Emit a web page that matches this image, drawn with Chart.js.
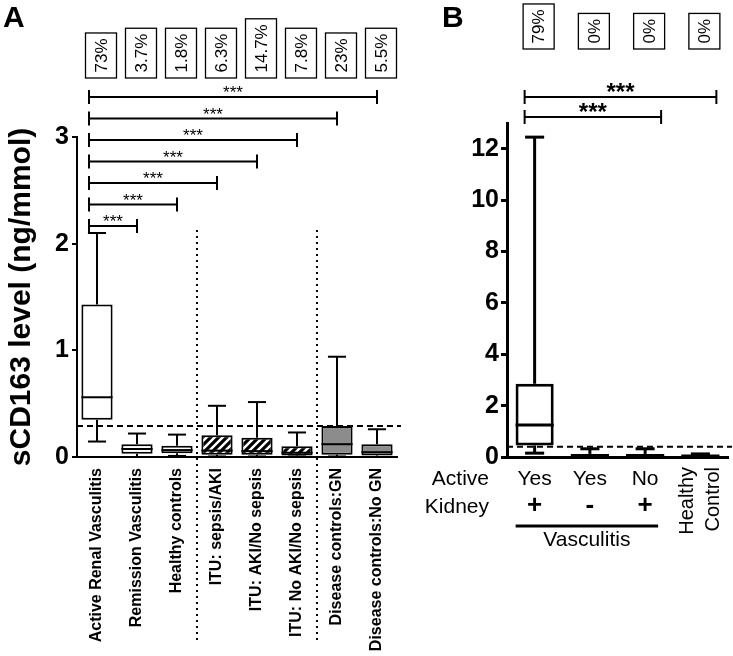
<!DOCTYPE html>
<html>
<head>
<meta charset="utf-8">
<script src="https://cdn.jsdelivr.net/npm/chart.js@4"></script>
<style>
  body { margin: 0; background: #fff; }
  canvas { position: absolute; top: 0; }
  #chartA { left: 0; }
  #chartB { left: 420px; }
</style>
</head>
<body>
<canvas id="chartA" width="420" height="656"></canvas>
<canvas id="chartB" width="313" height="656"></canvas>
<script>
// panel A - sCD163 per group (box = q1..q3, whiskers min..max)
const groupsA = ['Active Renal Vasculitis', 'Remission Vasculitis', 'Healthy controls', 'ITU: sepsis/AKI',
  'ITU: AKI/No sepsis', 'ITU: No AKI/No sepsis', 'Disease controls:GN', 'Disease controls:No GN'];
const minA = [0.145, 0, 0.01, 0.005, 0.005, 0.005, 0.005, 0];
const q1A = [0.35, 0.03, 0.035, 0.02, 0.02, 0.015, 0.02, 0.015];
const medA = [0.56, 0.075, 0.065, 0.06, 0.055, 0.04, 0.12, 0.045];
const q3A = [1.43, 0.12, 0.105, 0.205, 0.18, 0.1, 0.29, 0.12];
const maxA = [2.1, 0.22, 0.21, 0.48, 0.515, 0.23, 0.94, 0.26];
const pctA = ['73%', '3.7%', '1.8%', '6.3%', '14.7%', '7.8%', '23%', '5.5%'];
const compA = [1, 2, 3, 4, 5, 6, 7];   // each compared with group 0
const sigA = ['***', '***', '***', '***', '***', '***', '***'];
const cutoffA = 0.29;

// panel B - vasculitis subgroups
const groupsB = ['Yes +', 'Yes -', 'No +', 'Healthy Control'];
const activeB = ['Yes', 'Yes', 'No'];
const kidneyB = ['+', '-', '+'];
const minB = [0.15, 0, 0, 0];
const q1B = [0.45, 0.03, 0.03, 0.02];
const medB = [1.25, 0.06, 0.06, 0.04];
const q3B = [2.85, 0.12, 0.12, 0.07];
const maxB = [12.45, 0.32, 0.32, 0.12];
const pctB = ['79%', '0%', '0%', '0%'];
const compB = [3, 2];
const sigB = ['***', '***'];
const cutoffB = 0.4;

const FONT = "'Liberation Sans', Arial, sans-serif";
Chart.defaults.font.family = FONT;
Chart.defaults.color = '#000';

function hatch() {
  const c = document.createElement('canvas');
  c.width = c.height = 8;
  const g = c.getContext('2d');
  g.fillStyle = '#fff';
  g.fillRect(0, 0, 8, 8);
  g.strokeStyle = '#000';
  g.lineWidth = 3.2;
  g.beginPath();
  g.moveTo(-2, 10); g.lineTo(10, -2);
  g.moveTo(-2, 2); g.lineTo(2, -2);
  g.moveTo(6, 10); g.lineTo(10, 6);
  g.stroke();
  return g.createPattern(c, 'repeat');
}

function line(ctx, x1, y1, x2, y2) {
  ctx.beginPath();
  ctx.moveTo(x1, y1);
  ctx.lineTo(x2, y2);
  ctx.stroke();
}

// whiskers, medians, cutoff line, % boxes, significance brackets
function boxExtras(cfg) {
  return {
    id: 'boxExtras',
    beforeDatasetsDraw(chart) {
      const ctx = chart.ctx, y = chart.scales.y;
      ctx.save();
      ctx.strokeStyle = '#000';
      ctx.lineWidth = cfg.lw;
      chart.getDatasetMeta(0).data.forEach((bar, i) => {
        const cap = bar.width * cfg.cap / 2;
        const yMin = y.getPixelForValue(cfg.min[i]), yMax = y.getPixelForValue(cfg.max[i]);
        line(ctx, bar.x, yMax, bar.x, y.getPixelForValue(cfg.q3[i]));
        line(ctx, bar.x, yMin, bar.x, y.getPixelForValue(cfg.q1[i]));
        line(ctx, bar.x - cap, yMax, bar.x + cap, yMax);
        line(ctx, bar.x - cap, yMin, bar.x + cap, yMin);
      });
      ctx.restore();
    },
    afterDatasetsDraw(chart) {
      const ctx = chart.ctx, y = chart.scales.y, area = chart.chartArea;
      ctx.save();
      ctx.strokeStyle = '#000';
      ctx.lineWidth = cfg.lw;
      chart.getDatasetMeta(0).data.forEach((bar, i) => {
        const ym = y.getPixelForValue(cfg.med[i]);
        line(ctx, bar.x - bar.width / 2, ym, bar.x + bar.width / 2, ym);
      });
      // cutoff
      ctx.lineWidth = 2;
      ctx.setLineDash([6, 4]);
      const yc = y.getPixelForValue(cfg.cutoff);
      line(ctx, area.left, yc, area.right + 4, yc);
      ctx.restore();
    },
    afterDraw(chart) {
      const ctx = chart.ctx, x = chart.scales.x;
      ctx.save();
      // panel letter
      ctx.fillStyle = '#000';
      ctx.font = 'bold 30px ' + FONT;
      ctx.textBaseline = 'alphabetic';
      ctx.textAlign = 'left';
      ctx.fillText(cfg.letter, cfg.letterX, 27);
      // percentage boxes
      ctx.font = '17px ' + FONT;
      ctx.lineWidth = 1.3;
      ctx.strokeStyle = '#000';
      cfg.pct.forEach((t, i) => {
        const cx = x.getPixelForValue(i) + 4;
        const h = ctx.measureText(t).width + 11;
        ctx.strokeRect(cx - 15.5, cfg.pctBottom - h, 31, h);
        ctx.save();
        ctx.translate(cx, cfg.pctBottom - h / 2);
        ctx.rotate(-Math.PI / 2);
        ctx.textAlign = 'center';
        ctx.textBaseline = 'middle';
        ctx.fillText(t, 0, 1);
        ctx.restore();
      });
      // brackets
      ctx.lineWidth = 2;
      ctx.font = cfg.starFont;
      ctx.textAlign = 'center';
      ctx.textBaseline = 'alphabetic';
      const x0 = x.getPixelForValue(0) + cfg.padL;
      cfg.comp.forEach((j, k) => {
        const by = cfg.bracketY + k * cfg.bracketStep;
        const x1 = x.getPixelForValue(j) + cfg.padR;
        line(ctx, x0, by, x1, by);
        line(ctx, x0, by - 7, x0, by + 7);
        line(ctx, x1, by - 7, x1, by + 7);
        ctx.fillText(cfg.sig[k], (x0 + x1) / 2, by + cfg.starDy);
      });
      if (cfg.extra) cfg.extra(chart, ctx);
      ctx.restore();
    }
  };
}

const pat = hatch();

new Chart(document.getElementById('chartA'), {
  type: 'bar',
  data: {
    labels: groupsA,
    datasets: [{
      data: q1A.map((v, i) => [v, q3A[i]]),
      backgroundColor: ['#fff', '#fff', '#fff', pat, pat, pat, '#8c8c8c', '#8c8c8c'],
      borderColor: '#000',
      borderWidth: 2,
      borderSkipped: false,
      categoryPercentage: 1,
      barPercentage: 0.78
    }]
  },
  options: {
    responsive: false,
    animation: false,
    layout: { padding: { top: 137, right: 23, left: 0, bottom: 0 } },
    plugins: { legend: { display: false }, tooltip: { enabled: false } },
    scales: {
      x: {
        grid: { display: false },
        border: { color: '#000', width: 2 },
        ticks: { font: { size: 16, weight: 'bold' }, minRotation: 90, maxRotation: 90, padding: 3, autoSkip: false },
        afterFit: s => { s.height = 199; }
      },
      y: {
        min: 0, max: 3,
        ticks: { stepSize: 1, font: { size: 25, weight: 'bold' }, padding: 3 },
        grid: { drawOnChartArea: false, color: '#000', lineWidth: 2, tickLength: 5 },
        border: { color: '#000', width: 2 },
        title: { display: true, text: 'sCD163 level (ng/mmol)', font: { size: 30, weight: 'bold' }, padding: { top: 4, bottom: 0 } },
        afterFit: s => { s.width = 77; }
      }
    }
  },
  plugins: [boxExtras({
    min: minA, q1: q1A, med: medA, q3: q3A, max: maxA, pct: pctA, comp: compA, sig: sigA, cutoff: cutoffA,
    lw: 2, cap: 0.58, letter: 'A', letterX: 3, pctBottom: 78,
    bracketY: 226, bracketStep: -21.5, padL: -8, padR: 0, starFont: '17px ' + FONT, starDy: 1,
    extra(chart, ctx) {
      const x = chart.scales.x;
      ctx.lineWidth = 2;
      ctx.setLineDash([2, 4]);
      [2, 5].forEach(i => {
        const sx = (x.getPixelForValue(i) + x.getPixelForValue(i + 1)) / 2;
        line(ctx, sx, 230, sx, 642);
      });
    }
  })]
});

new Chart(document.getElementById('chartB'), {
  type: 'bar',
  data: {
    labels: groupsB,
    datasets: [{
      data: q1B.map((v, i) => [v, q3B[i]]),
      backgroundColor: '#fff',
      borderColor: '#000',
      borderWidth: 3,
      borderSkipped: false,
      categoryPercentage: 1,
      barPercentage: 0.69
    }]
  },
  options: {
    responsive: false,
    animation: false,
    layout: { padding: { top: 123, right: 5, left: 0, bottom: 0 } },
    plugins: { legend: { display: false }, tooltip: { enabled: false } },
    scales: {
      x: {
        grid: { display: false },
        border: { color: '#000', width: 3 },
        ticks: { display: false },
        afterFit: s => { s.height = 199; }
      },
      y: {
        min: 0, max: 13,
        ticks: { stepSize: 2, includeBounds: false, font: { size: 25, weight: 'bold' }, padding: 2 },
        grid: { drawOnChartArea: false, color: '#000', lineWidth: 3, tickLength: 6 },
        border: { color: '#000', width: 3 },
        afterFit: s => { s.width = 87; }
      }
    }
  },
  plugins: [boxExtras({
    min: minB, q1: q1B, med: medB, q3: q3B, max: maxB, pct: pctB, comp: compB, sig: sigB, cutoff: cutoffB,
    lw: 3, cap: 0.5, letter: 'B', letterX: 22, pctBottom: 49,
    bracketY: 97, bracketStep: 20, padL: -10, padR: 16, starFont: 'bold 24px ' + FONT, starDy: 3,
    extra(chart, ctx) {
      const x = chart.scales.x;
      ctx.setLineDash([]);
      ctx.font = '21px ' + FONT;
      ctx.textBaseline = 'middle';
      ctx.textAlign = 'right';
      ctx.fillText('Active', 69, 479);
      ctx.fillText('Kidney', 69, 507);
      ctx.textAlign = 'center';
      activeB.forEach((t, i) => ctx.fillText(t, x.getPixelForValue(i), 479));
      ctx.font = 'bold 26px ' + FONT;
      kidneyB.forEach((t, i) => ctx.fillText(t, x.getPixelForValue(i), 506));
      ctx.lineWidth = 3;
      const l = x.getPixelForValue(0) - 19, r = x.getPixelForValue(2) + 13;
      line(ctx, l, 526, r, 526);
      ctx.font = '21px ' + FONT;
      ctx.fillText('Vasculitis', (l + r) / 2, 540);
      const cx = x.getPixelForValue(3);
      ctx.font = '20px ' + FONT;
      ctx.textAlign = 'right';
      ['Healthy', 'Control'].forEach((t, k) => {
        ctx.save();
        ctx.translate(cx - 13 + k * 26, 467);
        ctx.rotate(-Math.PI / 2);
        ctx.fillText(t, 0, 0);
        ctx.restore();
      });
    }
  })]
});
</script>
</body>
</html>
